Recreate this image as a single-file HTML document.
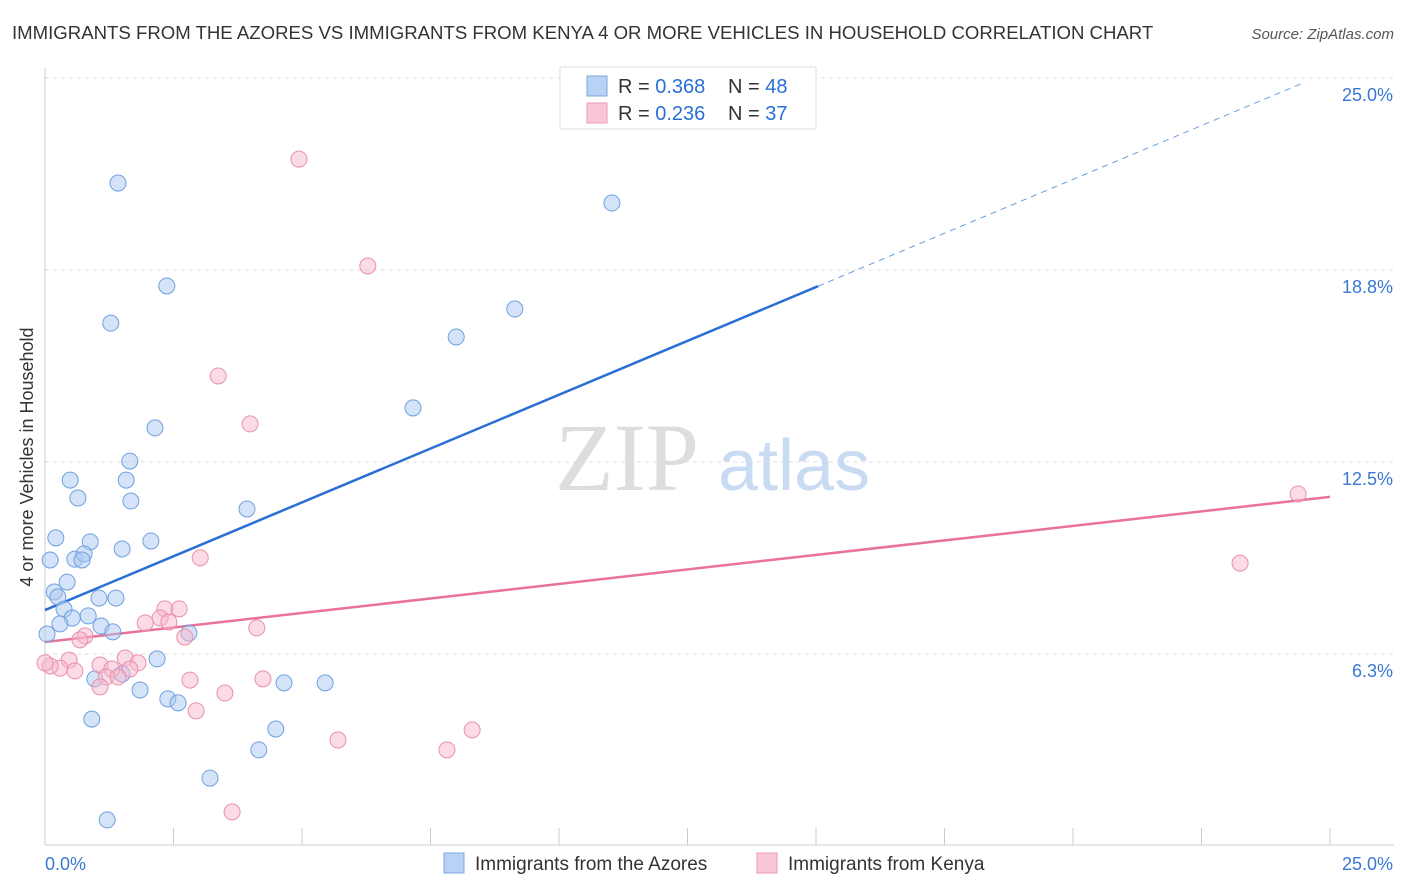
<!DOCTYPE html>
<html><head><meta charset="utf-8">
<style>
body{margin:0;background:#fff;font-family:"Liberation Sans",sans-serif;}
svg{display:block}
</style></head>
<body>
<svg id="chart" width="1406" height="892" xmlns="http://www.w3.org/2000/svg">
<text x="12" y="39" font-size="18.6" fill="#333">IMMIGRANTS FROM THE AZORES VS IMMIGRANTS FROM KENYA 4 OR MORE VEHICLES IN HOUSEHOLD CORRELATION CHART</text>
<text x="1394" y="39" font-size="15" fill="#555" font-style="italic" text-anchor="end">Source: ZipAtlas.com</text>
<text x="33" y="457" font-size="18" fill="#333" text-anchor="middle" transform="rotate(-90 33 457)">4 or more Vehicles in Household</text>
<g><text x="555" y="490" font-size="96" font-family="Liberation Serif" fill="#ddd">ZIP</text><text x="718" y="490" font-size="72" fill="#c9dbf2">atlas</text></g>
<g id="grid"></g><g id="lines"></g><g id="pts"></g>
<g>
<rect x="560" y="67" width="256" height="62" fill="#fff" stroke="#ddd"/>
<rect x="587" y="76" width="20" height="20" fill="#b9d2f3" stroke="#7aa6e0"/>
<text x="618" y="93" font-size="20" fill="#333">R = <tspan fill="#2a6fd6">0.368</tspan></text>
<text x="728" y="93" font-size="20" fill="#333">N = <tspan fill="#2a6fd6">48</tspan></text>
<rect x="587" y="103" width="20" height="20" fill="#f9c6d6" stroke="#eb9ab5"/>
<text x="618" y="120" font-size="20" fill="#333">R = <tspan fill="#2a6fd6">0.236</tspan></text>
<text x="728" y="120" font-size="20" fill="#333">N = <tspan fill="#2a6fd6">37</tspan></text>
</g>
<g>
<rect x="444" y="853" width="20" height="20" fill="#b9d2f3" stroke="#7aa6e0"/>
<text x="475" y="870" font-size="19" fill="#333">Immigrants from the Azores</text>
<rect x="757" y="853" width="20" height="20" fill="#f9c6d6" stroke="#eb9ab5"/>
<text x="788" y="870" font-size="19" fill="#333">Immigrants from Kenya</text>
</g>
</svg>
<script>
const yTicks=[6.25,12.5,18.75,25];
const yTickLabels=["6.3%","12.5%","18.8%","25.0%"];
const xTicks=[0,2.5,5,7.5,10,12.5,15,17.5,20,22.5,25];
const azoresX=[1.42,11.03,2.37,9.14,1.28,8.0,7.16,2.14,1.65,0.49,1.58,0.64,1.67,3.93,0.21,2.06,0.88,1.5,0.1,0.58,0.76,0.72,0.43,0.18,0.25,1.05,1.38,0.37,0.84,0.53,0.29,1.09,1.32,2.8,0.04,2.18,1.5,0.97,4.65,5.45,1.85,2.39,2.59,4.49,0.91,4.16,3.21,1.21];
const azoresY=[21.58,20.93,18.23,17.48,17.02,16.57,14.26,13.61,12.53,11.91,11.91,11.33,11.23,10.97,10.03,9.93,9.9,9.67,9.31,9.34,9.51,9.31,8.59,8.27,8.11,8.07,8.07,7.71,7.49,7.42,7.23,7.16,6.97,6.93,6.9,6.09,5.6,5.44,5.31,5.31,5.08,4.79,4.66,3.81,4.13,3.13,2.21,0.85];
const kenyaX=[4.94,6.28,3.37,3.99,24.38,23.25,3.02,2.33,2.61,2.24,2.41,1.95,4.12,0.78,0.68,2.72,1.56,1.07,1.81,1.3,1.65,0.47,0.29,0.58,0.1,0,1.19,1.42,2.82,4.24,3.5,1.07,2.94,8.31,5.7,7.82,3.64];
const kenyaY=[22.36,18.88,15.3,13.74,11.46,9.21,9.38,7.72,7.72,7.42,7.29,7.26,7.1,6.84,6.71,6.8,6.12,5.89,5.96,5.76,5.76,6.05,5.79,5.7,5.86,5.96,5.5,5.5,5.4,5.44,4.98,5.18,4.4,3.78,3.45,3.13,1.11];
const azoresFit=[7.68,0.701];
const kenyaFit=[6.64,0.189];
const NS="http://www.w3.org/2000/svg";
const sx=v=>45+v/25*1285, sy=v=>846-v*30.72;
function mk(t,a,p){const e=document.createElementNS(NS,t);for(const k in a)e.setAttribute(k,a[k]);p.appendChild(e);return e;}
const grid=document.getElementById('grid'),lines=document.getElementById('lines'),pts=document.getElementById('pts');
yTicks.forEach((t,i)=>{
 const l=mk('line',{x1:45,x2:1394,y1:sy(t),y2:sy(t),stroke:'#ddd','stroke-dasharray':'4,4'},grid);
 
 
 const tx=mk('text',{x:1393,y:sy(t)+23,'font-size':18,fill:'#3a78d4','text-anchor':'end'},grid);
 tx.textContent=yTickLabels[i];
 
 
});
const ax=mk('line',{x1:45,x2:45,y1:68,y2:845,stroke:'#ccc'},grid);


const bx=mk('line',{x1:45,x2:1394,y1:845,y2:845,stroke:'#ccc'},grid);


xTicks.forEach(t=>{const l=mk('line',{x1:sx(t),x2:sx(t),y1:828,y2:845,stroke:'#ccc'},grid);
 
 });
const xl=mk('text',{x:45,y:870,'font-size':18,fill:'#3a78d4'},grid);xl.textContent='0.0%';


const xr=mk('text',{x:1393,y:870,'font-size':18,fill:'#3a78d4','text-anchor':'end'},grid);xr.textContent='25.0%';


function pf(f,x){return f[0]+f[1]*x;}
let a=mk('line',{x1:sx(0),y1:sy(pf(azoresFit,0)),x2:sx(15.04),y2:sy(pf(azoresFit,15.04)),stroke:'#2a6fd6','stroke-width':2.5},lines);


a=mk('line',{x1:sx(15.04),y1:sy(pf(azoresFit,15.04)),x2:sx(24.5),y2:sy(pf(azoresFit,24.5)),stroke:'#6a9ae0','stroke-width':1,'stroke-dasharray':'6,5'},lines);


a=mk('line',{x1:sx(0),y1:sy(pf(kenyaFit,0)),x2:sx(25),y2:sy(pf(kenyaFit,25)),stroke:'#e8729a','stroke-width':2.5},lines);


azoresX.forEach((x,i)=>{const c=mk('circle',{cx:sx(x),cy:sy(azoresY[i]),r:8,fill:'rgba(169,200,240,0.5)',stroke:'#6fa0e0','stroke-width':1},pts);
 
 });
kenyaX.forEach((x,i)=>{const c=mk('circle',{cx:sx(x),cy:sy(kenyaY[i]),r:8,fill:'rgba(247,184,204,0.5)',stroke:'#e890ac','stroke-width':1},pts);
 
 });
</script>
</body></html>
